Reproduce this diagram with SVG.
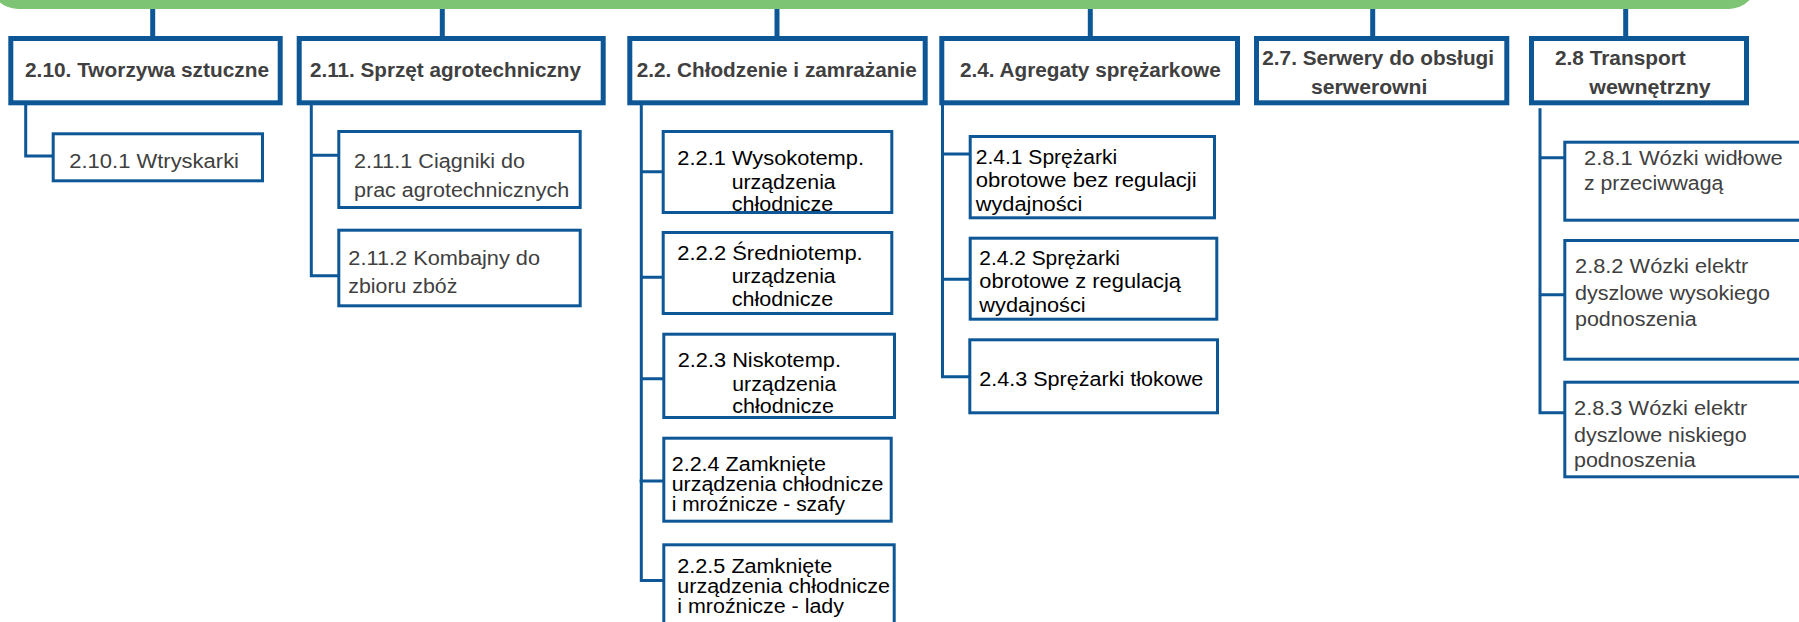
<svg xmlns="http://www.w3.org/2000/svg" width="1799" height="622" viewBox="0 0 1799 622">
<style>
.hdr rect{fill:#fff;stroke:#0D5797;stroke-width:5}
.sub rect{fill:#fff;stroke:#0D5797;stroke-width:3}
text{font-family:"Liberation Sans",Arial,sans-serif;font-size:20px;fill:#404040}
.b{font-weight:bold}
.k{fill:#000}
#connectors path{fill:none;stroke:#0D5797}
#connectors .top{stroke-width:5}
#connectors .br{stroke-width:3}
</style>
<rect id="bar" x="-10" y="-60" width="1767" height="69" rx="28" fill="#7DC474"/>
<g id="connectors">
<path class="top" d="M152.7,9V37M442.3,9V37M777,9V37M1090.3,9V37M1372.7,9V37M1625.7,9V40"/>
<path class="br" d="M25.7,105V156H53"/>
<path class="br" d="M311.3,105V277.3M311.3,155.3H339M311.3,275.8H339"/>
<path class="br" d="M641.3,105V582M641.3,171.7H663M641.3,277.3H663M641.3,378.7H664M639.5,481H664M641.3,580.5H664"/>
<path class="br" d="M942.5,105V376.7M942.5,154H970M942.5,279.3H970M941,376.7H970"/>
<path class="br" d="M1540,108.3V412.7M1540,157.7H1565M1540,294.7H1565M1538.5,412.7H1565"/>
</g>
<g id="n2-10" class="hdr"><rect x="10.8" y="38.5" width="269.4" height="64.3"/><text class="b" x="25" y="77.3" textLength="244" lengthAdjust="spacingAndGlyphs">2.10. Tworzywa sztuczne</text></g>
<g id="n2-11" class="hdr"><rect x="299.2" y="38.5" width="304" height="64.3"/><text class="b" x="310" y="76.5" textLength="271" lengthAdjust="spacingAndGlyphs">2.11. Sprzęt agrotechniczny</text></g>
<g id="n2-2" class="hdr"><rect x="629.8" y="38.5" width="295.4" height="64.3"/><text class="b" x="636.7" y="76.7" textLength="280" lengthAdjust="spacingAndGlyphs">2.2. Chłodzenie i zamrażanie</text></g>
<g id="n2-4" class="hdr"><rect x="941.8" y="38.5" width="295.7" height="64.3"/><text class="b" x="960" y="76.7" textLength="260.7" lengthAdjust="spacingAndGlyphs">2.4. Agregaty sprężarkowe</text></g>
<g id="n2-7" class="hdr"><rect x="1256.5" y="38.5" width="250.3" height="64.3"/><text class="b" x="1262.3" y="65" textLength="231.7" lengthAdjust="spacingAndGlyphs">2.7. Serwery do obsługi</text><text class="b" x="1311" y="94.3" textLength="116.3" lengthAdjust="spacingAndGlyphs">serwerowni</text></g>
<g id="n2-8" class="hdr"><rect x="1531.5" y="38.5" width="215" height="64.3"/><text class="b" x="1555" y="65" textLength="130.7" lengthAdjust="spacingAndGlyphs">2.8 Transport</text><text class="b" x="1589.3" y="94.3" textLength="121.4" lengthAdjust="spacingAndGlyphs">wewnętrzny</text></g>
<g id="n2-10-1" class="sub"><rect x="53.2" y="133.8" width="209.3" height="47"/><text x="69.3" y="168.3" textLength="169.7" lengthAdjust="spacingAndGlyphs">2.10.1 Wtryskarki</text></g>
<g id="n2-11-1" class="sub"><rect x="338.8" y="131.5" width="241.4" height="76"/><text x="354" y="167.7" textLength="171" lengthAdjust="spacingAndGlyphs">2.11.1 Ciągniki do</text><text x="354" y="196.7" textLength="215.3" lengthAdjust="spacingAndGlyphs">prac agrotechnicznych</text></g>
<g id="n2-11-2" class="sub"><rect x="338.8" y="230.2" width="241.4" height="75.6"/><text x="348.3" y="265" textLength="191.7" lengthAdjust="spacingAndGlyphs">2.11.2 Kombajny do</text><text x="348.3" y="293.3" textLength="109" lengthAdjust="spacingAndGlyphs">zbioru zbóż</text></g>
<g id="n2-2-1" class="sub"><rect x="663.2" y="131.5" width="228.6" height="81"/><text class="k" x="677.3" y="165" textLength="186.7" lengthAdjust="spacingAndGlyphs">2.2.1 Wysokotemp.</text><text class="k" x="731.7" y="189" textLength="104" lengthAdjust="spacingAndGlyphs">urządzenia</text><text class="k" x="731.7" y="210.7" textLength="101.6" lengthAdjust="spacingAndGlyphs">chłodnicze</text></g>
<g id="n2-2-2" class="sub"><rect x="663.2" y="232.5" width="228.6" height="81"/><text class="k" x="677.3" y="260" textLength="185.4" lengthAdjust="spacingAndGlyphs">2.2.2 Średniotemp.</text><text class="k" x="731.7" y="283.3" textLength="104" lengthAdjust="spacingAndGlyphs">urządzenia</text><text class="k" x="731.7" y="306" textLength="101.6" lengthAdjust="spacingAndGlyphs">chłodnicze</text></g>
<g id="n2-2-3" class="sub"><rect x="663.8" y="334.2" width="230.7" height="83.3"/><text class="k" x="677.7" y="366.7" textLength="163.3" lengthAdjust="spacingAndGlyphs">2.2.3 Niskotemp.</text><text class="k" x="732.3" y="390.7" textLength="104" lengthAdjust="spacingAndGlyphs">urządzenia</text><text class="k" x="732.3" y="413.3" textLength="101.6" lengthAdjust="spacingAndGlyphs">chłodnicze</text></g>
<g id="n2-2-4" class="sub"><rect x="663.8" y="438.2" width="227.4" height="83"/><text class="k" x="671.7" y="470.7" textLength="154.3" lengthAdjust="spacingAndGlyphs">2.2.4 Zamknięte</text><text class="k" x="671.7" y="490.7" textLength="211.6" lengthAdjust="spacingAndGlyphs">urządzenia chłodnicze</text><text class="k" x="671.7" y="511" textLength="173.3" lengthAdjust="spacingAndGlyphs">i mroźnicze - szafy</text></g>
<g id="n2-2-5" class="sub"><rect x="663.8" y="544.8" width="230.4" height="100"/><text class="k" x="677.3" y="572.7" textLength="155" lengthAdjust="spacingAndGlyphs">2.2.5 Zamknięte</text><text class="k" x="677.3" y="592.7" textLength="212.7" lengthAdjust="spacingAndGlyphs">urządzenia chłodnicze</text><text class="k" x="677.3" y="613.3" textLength="166.7" lengthAdjust="spacingAndGlyphs">i mroźnicze - lady</text></g>
<g id="n2-4-1" class="sub"><rect x="970.2" y="136.5" width="244.3" height="81.3"/><text class="k" x="975.7" y="164" textLength="141.6" lengthAdjust="spacingAndGlyphs">2.4.1 Sprężarki</text><text class="k" x="975.7" y="187.3" textLength="221" lengthAdjust="spacingAndGlyphs">obrotowe bez regulacji</text><text class="k" x="975.7" y="210.7" textLength="106.6" lengthAdjust="spacingAndGlyphs">wydajności</text></g>
<g id="n2-4-2" class="sub"><rect x="970.2" y="238.2" width="246.6" height="81"/><text class="k" x="979.3" y="265" textLength="140.7" lengthAdjust="spacingAndGlyphs">2.4.2 Sprężarki</text><text class="k" x="979.3" y="288.3" textLength="201.7" lengthAdjust="spacingAndGlyphs">obrotowe z regulacją</text><text class="k" x="979.3" y="311.7" textLength="106.4" lengthAdjust="spacingAndGlyphs">wydajności</text></g>
<g id="n2-4-3" class="sub"><rect x="969.8" y="339.8" width="247.7" height="73"/><text class="k" x="979.3" y="386" textLength="224" lengthAdjust="spacingAndGlyphs">2.4.3 Sprężarki tłokowe</text></g>
<g id="n2-8-1" class="sub"><rect x="1564.8" y="142.2" width="260" height="78"/><text x="1584" y="165" textLength="198.7" lengthAdjust="spacingAndGlyphs">2.8.1 Wózki widłowe</text><text x="1584" y="190" textLength="139.3" lengthAdjust="spacingAndGlyphs">z przeciwwagą</text></g>
<g id="n2-8-2" class="sub"><rect x="1564.8" y="240.5" width="260" height="118.7"/><text x="1575" y="272.7" textLength="173.3" lengthAdjust="spacingAndGlyphs">2.8.2 Wózki elektr</text><text x="1575" y="300" textLength="195" lengthAdjust="spacingAndGlyphs">dyszlowe wysokiego</text><text x="1575" y="326" textLength="121.7" lengthAdjust="spacingAndGlyphs">podnoszenia</text></g>
<g id="n2-8-3" class="sub"><rect x="1564.8" y="382.2" width="260" height="94.6"/><text x="1574" y="415" textLength="173.3" lengthAdjust="spacingAndGlyphs">2.8.3 Wózki elektr</text><text x="1574" y="441.7" textLength="172.7" lengthAdjust="spacingAndGlyphs">dyszlowe niskiego</text><text x="1574" y="467.3" textLength="121.7" lengthAdjust="spacingAndGlyphs">podnoszenia</text></g>
</svg>
